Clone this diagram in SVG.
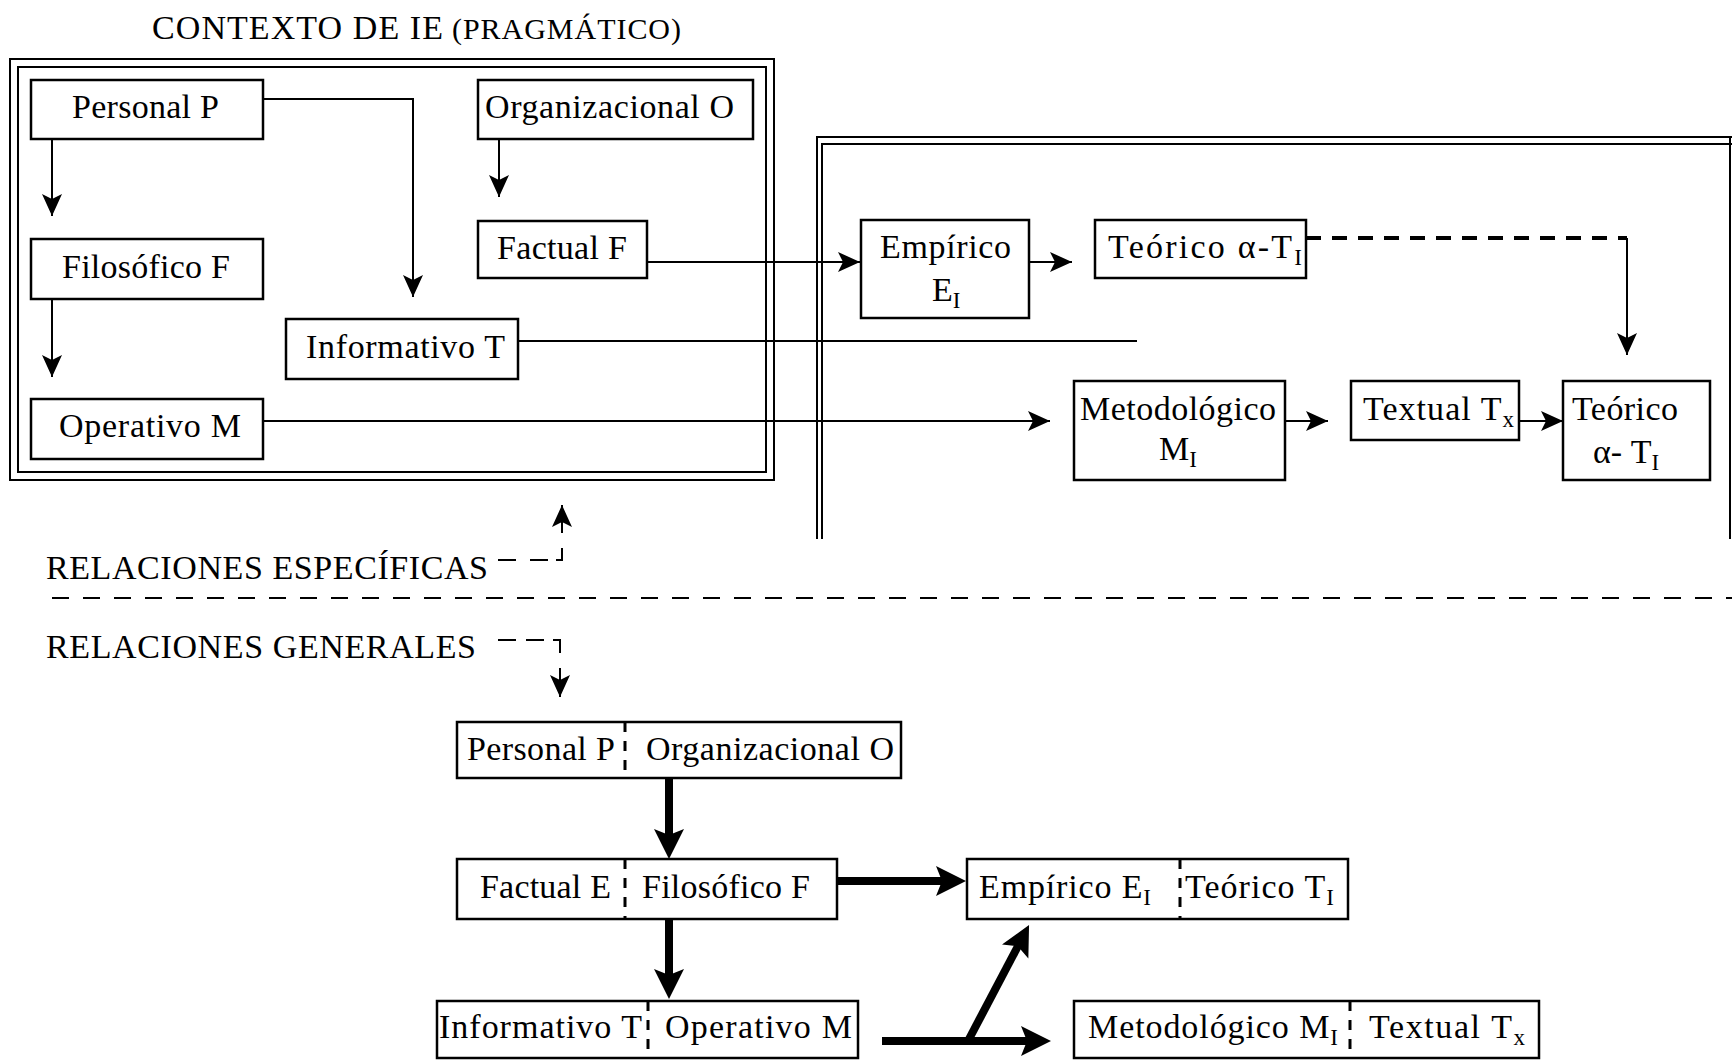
<svg xmlns="http://www.w3.org/2000/svg" width="1732" height="1060" viewBox="0 0 1732 1060">
<style>
.box{fill:#fff;stroke:#000;stroke-width:2.5}
.frame{fill:none;stroke:#000;stroke-width:2}
.t{font-family:"Liberation Serif","Times New Roman",serif;font-size:34px;fill:#000}
.sub{font-size:23px}
.ln{fill:none;stroke:#000;stroke-width:2}
.thick{fill:none;stroke:#000;stroke-width:8}
.div{stroke:#000;stroke-width:3;stroke-dasharray:10 9}
</style>
<defs>
<marker id="a" markerUnits="userSpaceOnUse" markerWidth="24" markerHeight="22" refX="22" refY="10" orient="auto">
<path d="M0,0 L22,10 L0,20 L5,10 Z" fill="#000"/>
</marker>
<marker id="A" markerUnits="userSpaceOnUse" markerWidth="32" markerHeight="32" refX="8" refY="15" orient="auto">
<path d="M0,0 L30,15 L0,30 L6,15 Z" fill="#000"/>
</marker>
</defs>
<rect width="1732" height="1060" fill="#fff"/>

<g id="frames">
<rect class="frame" x="10" y="59" width="764" height="421"/>
<rect class="frame" x="18" y="67" width="748" height="405"/>
<path class="frame" d="M817,539 V137 H1732"/>
<path class="frame" d="M822,539 V144 H1732"/>
<path class="frame" d="M1730,137 V539"/>
</g>

<g id="labels">
<text class="t" x="152" y="39" textLength="291">CONTEXTO DE IE</text>
<text class="t" x="452" y="39" style="font-size:30px" textLength="229">(PRAGMÁTICO)</text>
<text class="t" x="46" y="579" textLength="442">RELACIONES ESPECÍFICAS</text>
<text class="t" x="46" y="658" textLength="430">RELACIONES GENERALES</text>
</g>

<g id="connectors">
<path class="ln" d="M52,139 V216" marker-end="url(#a)"/>
<path class="ln" d="M52,299 V377" marker-end="url(#a)"/>
<path class="ln" d="M499,139 V197" marker-end="url(#a)"/>
<path class="ln" d="M264,99 H413 V297" marker-end="url(#a)"/>
<path class="ln" d="M647,262 H860" marker-end="url(#a)"/>
<path class="ln" d="M518,341 H1137"/>
<path class="ln" d="M264,421 H1050" marker-end="url(#a)"/>
<path class="ln" d="M1029,262 H1072" marker-end="url(#a)"/>
<path class="ln" d="M1306,238 H1627" style="stroke-width:4;stroke-dasharray:15 11"/>
<path class="ln" d="M1627,238 V355" marker-end="url(#a)"/>
<path class="ln" d="M1285,421 H1328" marker-end="url(#a)"/>
<path class="ln" d="M1519,421 H1563" marker-end="url(#a)"/>
<path class="ln" d="M52,598 H1732" style="stroke-dasharray:17 14"/>
<path class="ln" d="M498,560 H516 M530,560 H548 M556,560 H562 V548"/>
<path class="ln" d="M562,533 V505" marker-end="url(#a)"/>
<path class="ln" d="M498,640 H516 M526,640 H544 M553,640 H560 V653"/>
<path class="ln" d="M560,668 V697" marker-end="url(#a)"/>
<path class="thick" d="M669,778 V837" marker-end="url(#A)"/>
<path class="thick" d="M669,919 V977" marker-end="url(#A)"/>
<path class="thick" d="M837,881 H944" marker-end="url(#A)"/>
<path class="thick" d="M882,1041 H1029" marker-end="url(#A)"/>
<path class="thick" d="M968,1041 L1018.8,944.5" marker-end="url(#A)"/>
</g>

<g id="n-personal">
<rect class="box" x="31" y="80" width="232" height="59"/>
<text class="t" x="72" y="118" textLength="147">Personal P</text>
</g>
<g id="n-organizacional">
<rect class="box" x="478" y="80" width="275" height="59"/>
<text class="t" x="485" y="118" textLength="249">Organizacional O</text>
</g>
<g id="n-factual">
<rect class="box" x="478" y="221" width="169" height="57"/>
<text class="t" x="497" y="259" textLength="130">Factual F</text>
</g>
<g id="n-filosofico">
<rect class="box" x="31" y="239" width="232" height="60"/>
<text class="t" x="62" y="278" textLength="168">Filosófico F</text>
</g>
<g id="n-informativo">
<rect class="box" x="286" y="319" width="232" height="60"/>
<text class="t" x="306" y="358" textLength="199">Informativo T</text>
</g>
<g id="n-operativo">
<rect class="box" x="31" y="399" width="232" height="60"/>
<text class="t" x="59" y="437" textLength="182">Operativo M</text>
</g>
<g id="n-empirico">
<rect class="box" x="861" y="220" width="168" height="98"/>
<text class="t" x="880" y="258" textLength="131">Empírico</text>
<text class="t" x="932" y="301">E<tspan class="sub" dy="7">I</tspan></text>
</g>
<g id="n-teorico1">
<rect class="box" x="1095" y="220" width="211" height="58"/>
<text class="t" x="1108" y="258" textLength="194">Teórico α-T<tspan class="sub" dy="7">I</tspan></text>
</g>
<g id="n-metodologico">
<rect class="box" x="1074" y="381" width="211" height="99"/>
<text class="t" x="1080" y="420" textLength="196">Metodológico</text>
<text class="t" x="1159" y="460">M<tspan class="sub" dy="7">I</tspan></text>
</g>
<g id="n-textual">
<rect class="box" x="1351" y="381" width="168" height="59"/>
<text class="t" x="1363" y="420" textLength="151">Textual T<tspan class="sub" dy="7">x</tspan></text>
</g>
<g id="n-teorico2">
<rect class="box" x="1563" y="381" width="147" height="99"/>
<text class="t" x="1572" y="420" textLength="106">Teórico</text>
<text class="t" x="1593" y="463">α- T<tspan class="sub" dy="7">I</tspan></text>
</g>

<g id="g-personal-organizacional">
<rect class="box" x="457" y="722" width="444" height="56"/>
<line class="div" x1="625" y1="722" x2="625" y2="778"/>
<text class="t" x="467" y="760" textLength="148">Personal P</text>
<text class="t" x="646" y="760" textLength="248">Organizacional O</text>
</g>
<g id="g-factual-filosofico">
<rect class="box" x="457" y="859" width="380" height="60"/>
<line class="div" x1="625" y1="859" x2="625" y2="919"/>
<text class="t" x="480" y="898" textLength="131">Factual E</text>
<text class="t" x="642" y="898" textLength="168">Filosófico F</text>
</g>
<g id="g-empirico-teorico">
<rect class="box" x="967" y="859" width="381" height="60"/>
<line class="div" x1="1180" y1="859" x2="1180" y2="919"/>
<text class="t" x="979" y="898" textLength="172">Empírico E<tspan class="sub" dy="7">I</tspan></text>
<text class="t" x="1185" y="898" textLength="149">Teórico T<tspan class="sub" dy="7">I</tspan></text>
</g>
<g id="g-informativo-operativo">
<rect class="box" x="437" y="1001" width="421" height="57"/>
<line class="div" x1="648" y1="1001" x2="648" y2="1058"/>
<text class="t" x="439" y="1038" textLength="203">Informativo T</text>
<text class="t" x="665" y="1038" textLength="187">Operativo M</text>
</g>
<g id="g-metodologico-textual">
<rect class="box" x="1074" y="1001" width="465" height="57"/>
<line class="div" x1="1350" y1="1001" x2="1350" y2="1058"/>
<text class="t" x="1088" y="1038" textLength="250">Metodológico M<tspan class="sub" dy="7">I</tspan></text>
<text class="t" x="1369" y="1038" textLength="156">Textual T<tspan class="sub" dy="7">x</tspan></text>
</g>
</svg>
